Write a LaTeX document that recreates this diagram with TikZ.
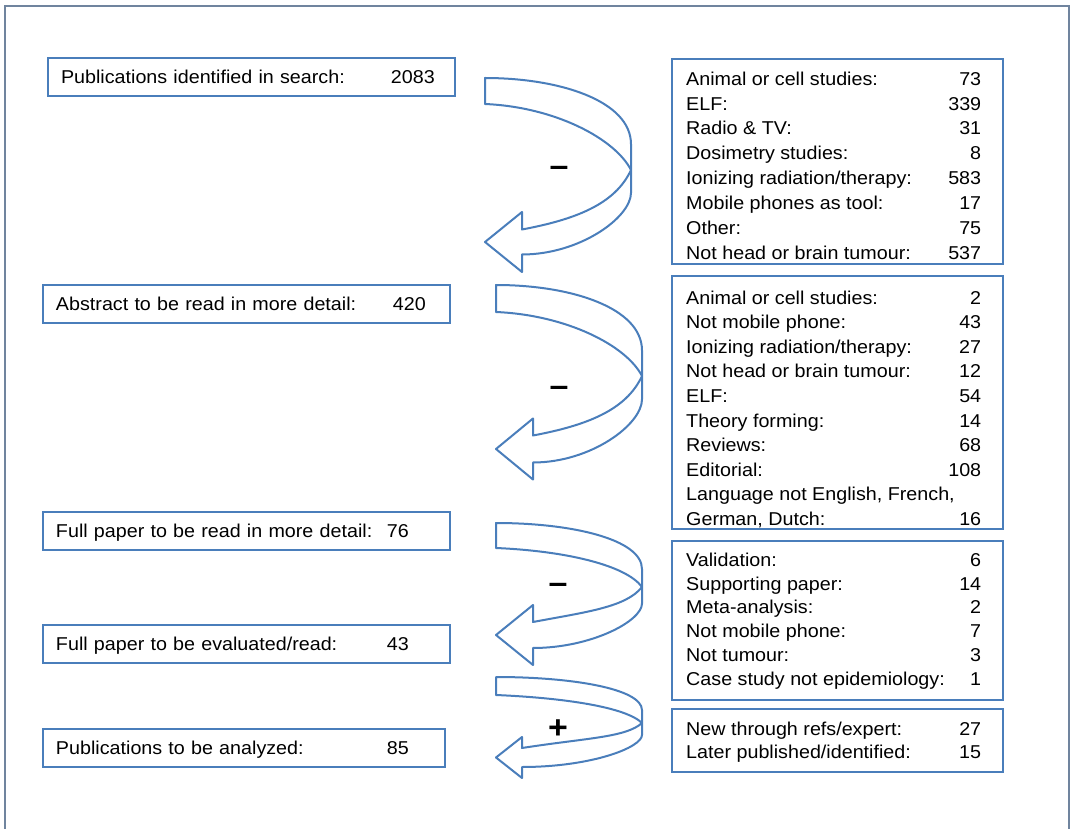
\documentclass[tikz,border=0pt]{standalone}
\usepackage{fontspec}
\setmainfont[FakeStretch=1.06]{Liberation Sans}
\usetikzlibrary{calc}
\definecolor{boxblue}{RGB}{74,126,187}
\definecolor{framegray}{RGB}{112,132,158}
\tikzstyle{stagerect} = [rectangle, draw=boxblue, line width=2.4pt, minimum width=407pt,
    inner xsep=13pt, inner ysep=0pt, text height=25.3pt, text depth=12.7pt,
    text width=381pt, align=left, font=\fontsize{18.6}{22}\selectfont]
\tikzstyle{reasonrect} = [rectangle, draw=boxblue, line width=2.4pt, anchor=north west,
    minimum width=331pt, inner xsep=18pt, inner ysep=0pt]
\tikzstyle{sign} = [font=\fontsize{32}{32}\selectfont\bfseries]
\tikzstyle{bentline} = [draw=boxblue, line width=2pt, fill=white, line join=round]
% origin, tail width, turn, tip, head half, shaft half, head length
\newcommand{\bentarrow}[7]{%
    \draw [bentline, shift={#1}] (0,0) .. controls (75,0) and (146,{0.25*#3}) .. (146,{0.72*#3})
        -- (146,{#3+0.27*(#4+#6-#3)})
        .. controls (146,{#3+0.56*(#4+#6-#3)}) and (95,{#4+#6}) .. (#7,{#4+#6})
        -- (#7,{#4+#5}) -- (0,#4) -- (#7,{#4-#5}) -- (#7,{#4-#6})
        .. controls (90,{#4-#6-10}) and (130,{#3+0.58*(#4-#6-#3)}) .. (146,#3)
        .. controls (130,{0.66*#3}) and (70,{#2+3}) .. (0,#2) -- cycle;}
\newcommand{\reasontab}[1]{%
    \begin{tabular*}{295pt}[t]{@{\hspace{-4pt}}l@{\extracolsep{\fill}}r@{\hspace{4pt}}}#1\end{tabular*}}

\begin{document}
\begin{tikzpicture}[x=1pt, y=-1pt, node distance=227pt]
    \useasboundingbox (0,0) rectangle (1072,829);
    \draw [framegray, line width=1.3pt] (5,840) -- (5,6) -- (1069,6) -- (1069,840);

    % stage nodes
    \node (Identified) [stagerect] at (251.5,77) {\makebox[330pt][l]{Publications identified in search:}2083};
    \node (Abstract) [stagerect, below of=Identified, xshift=-5pt] {\makebox[337pt][l]{Abstract to be read in more detail:}420};
    \node (FullRead) [stagerect, below of=Abstract] {\makebox[331pt][l]{Full paper to be read in more detail:}76};
    \node (FullEval) [stagerect, below of=FullRead, yshift=114pt] {\makebox[331pt][l]{Full paper to be evaluated/read:}43};
    \node (Analyzed) [stagerect, minimum width=402pt, text width=376pt, below of=FullEval,
        yshift=123pt, xshift=-2.5pt] {\makebox[331pt][l]{Publications to be analyzed:}85};

    % reason nodes
    \node (ExclSearch) [reasonrect, text height=26pt, text depth=179pt,
        font=\fontsize{18.6}{24.9}\selectfont] at (671,58) {\reasontab{%
        Animal or cell studies: & 73\\
        ELF: & 339\\
        Radio \& TV: & 31\\
        Dosimetry studies: & 8\\
        Ionizing radiation/therapy: & 583\\
        Mobile phones as tool: & 17\\
        Other: & 75\\
        Not head or brain tumour: & 537}};
    \node (ExclAbstract) [reasonrect, text height=28pt, text depth=225pt,
        font=\fontsize{18.6}{24.6}\selectfont] at (671,275) {\reasontab{%
        Animal or cell studies: & 2\\
        Not mobile phone: & 43\\
        Ionizing radiation/therapy: & 27\\
        Not head or brain tumour: & 12\\
        ELF: & 54\\
        Theory forming: & 14\\
        Reviews: & 68\\
        Editorial: & 108\\
        \multicolumn{2}{@{\hspace{-4pt}}l}{Language not English, French,}\\
        German, Dutch: & 16}};
    \node (ExclFull) [reasonrect, text height=25pt, text depth=134pt,
        font=\fontsize{18.6}{23.8}\selectfont] at (671,540) {\reasontab{%
        Validation: & 6\\
        Supporting paper: & 14\\
        Meta-analysis: & 2\\
        Not mobile phone: & 7\\
        Not tumour: & 3\\
        Case study not epidemiology: & 1}};
    \node (AddedRefs) [reasonrect, text height=26pt, text depth=37pt,
        font=\fontsize{18.6}{23}\selectfont] at (671,708) {\reasontab{%
        New through refs/expert: & 27\\
        Later published/identified: & 15}};

    % bent arrows
    \bentarrow{(485,78)}{26}{92}{164}{30}{12.5}{37}
    \bentarrow{(496,285)}{27}{91}{164}{30.5}{13.5}{37}
    \bentarrow{(496,523)}{25}{64}{112}{30}{13}{37}
    \bentarrow{(496,677)}{18}{46}{80.5}{20.5}{9.5}{26}

    % signs
    \node (MinusSearch) [sign] at (559,171) {–};
    \node (MinusAbstract) [sign] at (559,391) {–};
    \node (MinusFull) [sign] at (558,588) {–};
    \node (PlusRefs) [sign] at (558,729) {+};
\end{tikzpicture}
\end{document}
